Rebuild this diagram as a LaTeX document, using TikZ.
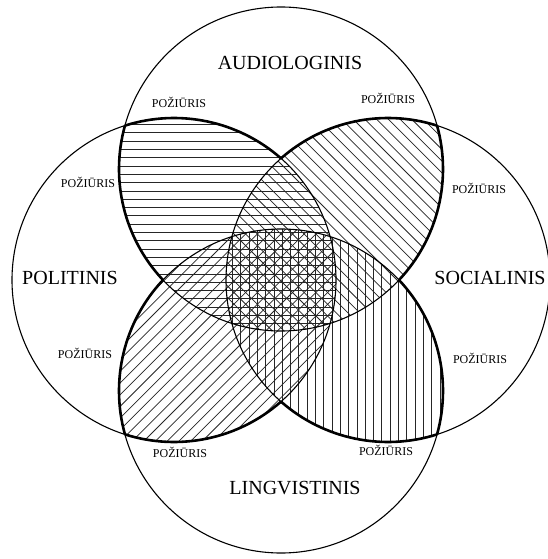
\documentclass[tikz,border=0pt]{standalone}
\usepackage{fontspec}
\setmainfont{Liberation Serif}
\begin{document}
\begin{tikzpicture}[x=1pt,y=1pt,
  circ/.style={line width=1.1pt},
  outline/.style={line width=2.6pt},
  hatch/.style={line width=0.75pt, black!85},
  big/.style={font=\fontsize{20}{24}\selectfont, inner sep=0pt},
  small/.style={font=\fontsize{12}{14}\selectfont, inner sep=0pt}]
\useasboundingbox (0,0) rectangle (547,-559);
\fill[white] (0,0) rectangle (547,-559);
\def\rr{162}
\coordinate (T) at (281,-169);
\coordinate (B) at (281,-391);
\coordinate (L) at (174,-280);
\coordinate (R) at (388,-280);
% hatching: top-left (horizontal)
\begin{scope}
  \clip (T) circle[radius=\rr]; \clip (L) circle[radius=\rr];
  \foreach \i in {0,...,70} \draw[hatch] (0,{-\i*8.3}) -- (547,{-\i*8.3});
\end{scope}
% top-right (\\)
\begin{scope}
  \clip (T) circle[radius=\rr]; \clip (R) circle[radius=\rr];
  \foreach \i in {-60,...,60} \draw[hatch] ({\i*11.7},0) -- ({\i*11.7+600},-600);
\end{scope}
% bottom-left (/)
\begin{scope}
  \clip (B) circle[radius=\rr]; \clip (L) circle[radius=\rr];
  \foreach \i in {0,...,100} \draw[hatch] ({\i*11.7},0) -- ({\i*11.7-600},-600);
\end{scope}
% bottom-right (vertical)
\begin{scope}
  \clip (B) circle[radius=\rr]; \clip (R) circle[radius=\rr];
  \foreach \i in {0,...,66} \draw[hatch] ({\i*8.3},0) -- ({\i*8.3},-559);
\end{scope}
% thin circles
\draw[circ] (T) circle[radius=\rr];
\draw[circ] (B) circle[radius=\rr];
\draw[circ] (L) circle[radius=\rr];
\draw[circ] (R) circle[radius=\rr];
% thick outline of the overlaps
\draw[outline] ([shift={(164.46:\rr)}]T) arc[start angle=164.46, end angle=223.25, radius=\rr];
\draw[outline] ([shift={(-43.25:\rr)}]T) arc[start angle=-43.25, end angle=15.54, radius=\rr];
\draw[outline] ([shift={(136.75:\rr)}]B) arc[start angle=136.75, end angle=195.54, radius=\rr];
\draw[outline] ([shift={(-15.54:\rr)}]B) arc[start angle=-15.54, end angle=43.25, radius=\rr];
\draw[outline] ([shift={(48.66:\rr)}]L) arc[start angle=48.66, end angle=107.64, radius=\rr];
\draw[outline] ([shift={(252.36:\rr)}]L) arc[start angle=252.36, end angle=311.34, radius=\rr];
\draw[outline] ([shift={(72.36:\rr)}]R) arc[start angle=72.36, end angle=131.34, radius=\rr];
\draw[outline] ([shift={(228.66:\rr)}]R) arc[start angle=228.66, end angle=287.64, radius=\rr];
% labels
\node[big] (audio) at (290,-63) {AUDIOLOGINIS};
\node[big] (polit) at (70,-278) {POLITINIS};
\node[big] (soc) at (490,-278) {SOCIALINIS};
\node[big] (ling) at (295,-488) {LINGVISTINIS};
\node[small] (p1) at (179,-102) {POŽIŪRIS};
\node[small] (p2) at (388,-98) {POŽIŪRIS};
\node[small] (p3) at (88,-182) {POŽIŪRIS};
\node[small] (p4) at (479,-188) {POŽIŪRIS};
\node[small] (p5) at (85,-353) {POŽIŪRIS};
\node[small] (p6) at (480,-358) {POŽIŪRIS};
\node[small] (p7) at (180,-452) {POŽIŪRIS};
\node[small] (p8) at (386,-450) {POŽIŪRIS};
\end{tikzpicture}
\end{document}
